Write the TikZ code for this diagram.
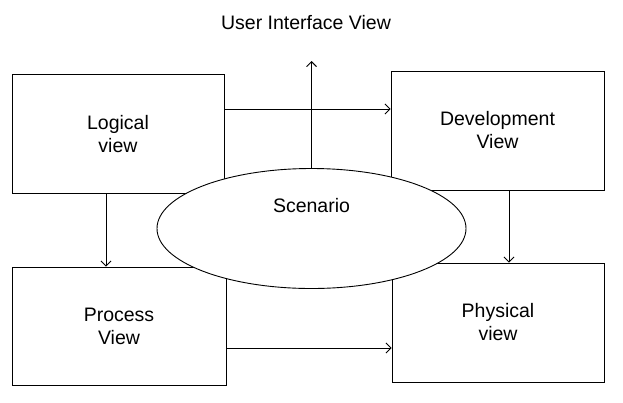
\documentclass[tikz,border=0pt]{standalone}
\usepackage{fontspec}
\setmainfont{Liberation Sans}
\usetikzlibrary{shapes.geometric,arrows.meta}
\begin{document}
\begin{tikzpicture}[x=1pt,y=-1pt,font=\fontsize{19.5}{23}\selectfont]
 \tikzstyle{vbox}=[rectangle, draw, line width=0.9pt, align=center, minimum width=212pt, minimum height=119pt]
 \tikzstyle{scen}=[ellipse, draw, fill=white, line width=0.9pt, minimum width=309pt, minimum height=120pt]
 \tikzstyle{arr}=[-{Straight Barb[length=5pt,width=10pt]}, line width=0.9pt]
\useasboundingbox (0,0) rectangle (623,402);
\draw (118,134) node[vbox] (logical) {Logical\\view};
\draw (497.5,130.5) node[vbox, minimum width=213pt] (dev) {Development\\View};
\draw (119,326) node[vbox, minimum width=214pt, minimum height=118pt] (process) {Process\\View};
\draw (498,322.5) node[vbox] (physical) {Physical\\view};
\draw (311.5,228.5) node[scen, label={[yshift=23pt]center:Scenario}] (scenario) {};
\draw (306,23) node (ui) {User Interface View};
\coordinate (uitip) at (311.5,61);
\draw[arr] (scenario.north) -- (uitip);
\draw[arr] ([yshift=25pt]logical.east) -- ([yshift=25pt]logical.east -| dev.west);
\draw[arr] ([xshift=-12pt]logical.south) -- ([xshift=-12pt]logical.south |- process.north);
\draw[arr] ([xshift=11.5pt]dev.south) -- ([xshift=11.5pt]dev.south |- physical.north);
\draw[arr] ([yshift=-22pt]process.east) -- ([yshift=-22pt]process.east -| physical.west);
\end{tikzpicture}
\end{document}
